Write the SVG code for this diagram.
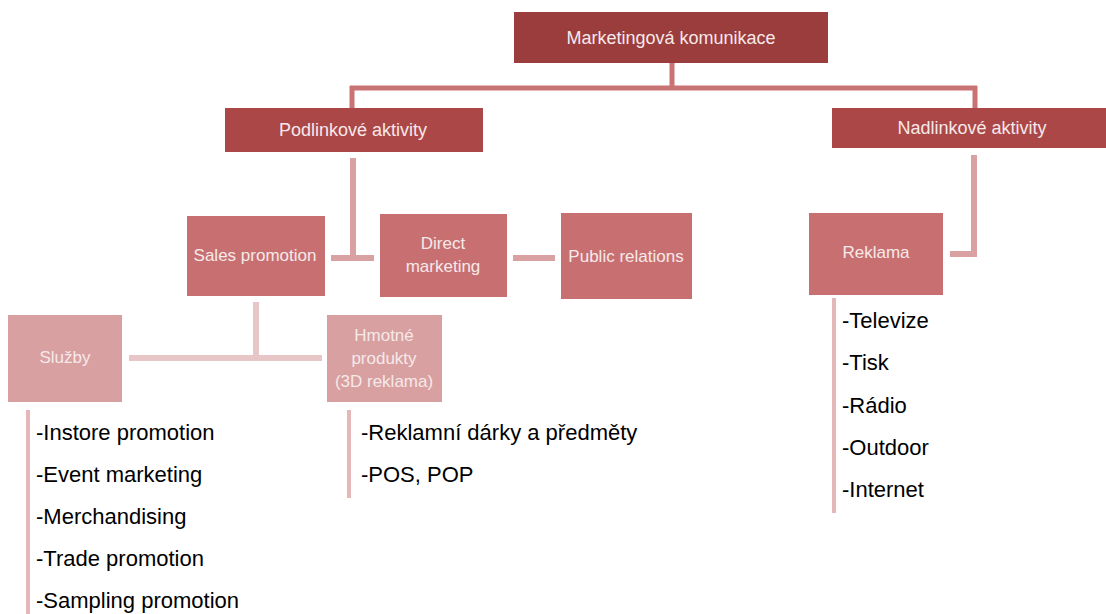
<svg xmlns="http://www.w3.org/2000/svg" width="1106" height="614" viewBox="0 0 1106 614">
  <style>
    .lbl { font-family: "Liberation Sans", Arial, sans-serif; font-size: 17px; fill: #F6E9E9; text-anchor: middle; dominant-baseline: central; }
    .big { font-size: 18px; }
    .item { font-family: "Liberation Sans", Arial, sans-serif; font-size: 22px; fill: #000000; }
    .c1 { stroke: #C97374; stroke-width: 5; fill: none; }
    .c2 { stroke: #D9A1A2; stroke-width: 6; fill: none; }
    .c3 { stroke: #E8C6C7; stroke-width: 6; fill: none; }
    .bar { stroke: #E6B7B8; stroke-width: 4; fill: none; }
  </style>
  <rect width="1106" height="614" fill="#FFFFFF"/>

  <!-- connectors -->
  <g id="connectors">
    <path class="c1" d="M672 63 V88 M350 88 H977 M352 86 V108 M975 86 V108"/>
    <path class="c2" d="M353 158 V258 M331 258 H374"/>
    <path class="c2" d="M513 258 H555"/>
    <path class="c2" d="M974 155 V254 M950 254 H977"/>
    <path class="c3" d="M256 302 V358 M129 358 H322"/>
    <path class="bar" d="M28 410 V614"/>
    <path class="bar" d="M349 410 V498"/>
    <path class="bar" d="M834 298 V513"/>
  </g>

  <g id="marketingova-komunikace">
    <rect x="514" y="12" width="314" height="51" fill="#9B3C3D"/>
    <text class="lbl big" x="671" y="38">Marketingová komunikace</text>
  </g>

  <g id="podlinkove-aktivity">
    <rect x="225" y="108" width="258" height="44" fill="#AC4748"/>
    <text class="lbl big" x="353" y="130">Podlinkové aktivity</text>
  </g>

  <g id="nadlinkove-aktivity">
    <rect x="832" y="108" width="280" height="40" fill="#AC4748"/>
    <text class="lbl big" x="972" y="128">Nadlinkové aktivity</text>
  </g>

  <g id="sales-promotion">
    <rect x="187" y="216" width="138" height="80" fill="#C87071"/>
    <text class="lbl" x="255" y="255">Sales promotion</text>
  </g>

  <g id="direct-marketing">
    <rect x="380" y="214" width="127" height="83" fill="#C87071"/>
    <text class="lbl" x="443" y="243">Direct</text>
    <text class="lbl" x="443" y="266">marketing</text>
  </g>

  <g id="public-relations">
    <rect x="561" y="213" width="131" height="86" fill="#C87071"/>
    <text class="lbl" x="626" y="256">Public relations</text>
  </g>

  <g id="reklama">
    <rect x="809" y="213" width="134" height="82" fill="#C87071"/>
    <text class="lbl" x="876" y="252">Reklama</text>
  </g>

  <g id="sluzby">
    <rect x="8" y="315" width="114" height="87" fill="#D8A0A1"/>
    <text class="lbl" x="65" y="357">Služby</text>
  </g>

  <g id="hmotne-produkty">
    <rect x="327" y="315" width="115" height="87" fill="#D8A0A1"/>
    <text class="lbl" x="384" y="335">Hmotné</text>
    <text class="lbl" x="384" y="358">produkty</text>
    <text class="lbl" x="384" y="381">(3D reklama)</text>
  </g>

  <g id="sluzby-list">
    <text class="item" x="36" y="440">-Instore promotion</text>
    <text class="item" x="36" y="482">-Event marketing</text>
    <text class="item" x="36" y="524">-Merchandising</text>
    <text class="item" x="36" y="566">-Trade promotion</text>
    <text class="item" x="36" y="608">-Sampling promotion</text>
  </g>

  <g id="hmotne-list">
    <text class="item" x="361" y="440">-Reklamní dárky a předměty</text>
    <text class="item" x="361" y="482">-POS, POP</text>
  </g>

  <g id="reklama-list">
    <text class="item" x="842" y="328">-Televize</text>
    <text class="item" x="842" y="370">-Tisk</text>
    <text class="item" x="842" y="413">-Rádio</text>
    <text class="item" x="842" y="455">-Outdoor</text>
    <text class="item" x="842" y="497">-Internet</text>
  </g>
</svg>
